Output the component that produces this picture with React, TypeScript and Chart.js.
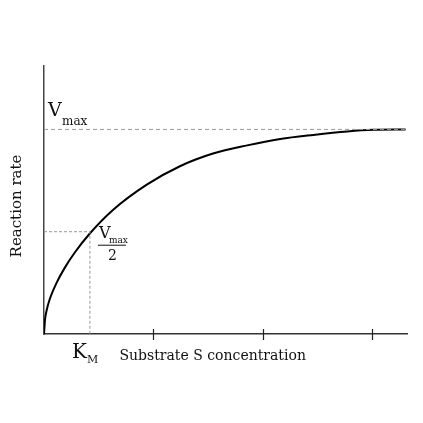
import { useEffect, useRef } from "react";
import { Chart, registerables } from "chart.js";

Chart.register(...registerables);

// Michaelis–Menten style curve (substrate concentration vs reaction rate, Vmax = 1)
const curveX = [0, 0.01, 0.025, 0.05, 0.115, 0.188, 0.28, 0.417, 0.628, 0.94, 1.243, 1.546, 1.858, 2.161, 2.463, 2.775, 3.014, 3.307];
const curveY = [0, 0.074, 0.117, 0.166, 0.25, 0.322, 0.397, 0.49, 0.605, 0.73, 0.82, 0.882, 0.922, 0.953, 0.973, 0.99, 0.998, 1.0];
const xTicks = [1, 2, 3];
const vmax = 1;
const km = 0.42;
const xMax = 3.32;
const yMax = 1.31;
const xLabel = "Substrate S concentration";
const yLabel = "Reaction rate";

export default function App() {
  const ref = useRef<HTMLCanvasElement>(null);

  useEffect(() => {
    if (!ref.current) return;
    const serif = "'DejaVu Serif', serif";

    const labelsPlugin = {
      id: "mmLabels",
      afterDatasetsDraw(chart: any) {
        const { ctx } = chart;
        const x = chart.scales.x;
        const y = chart.scales.y;
        ctx.save();
        // ticks crossing the x axis
        ctx.strokeStyle = "#222";
        ctx.lineWidth = 1.2;
        xTicks.forEach((t) => {
          const px = Math.round(x.getPixelForValue(t)) + 0.5;
          ctx.beginPath();
          ctx.moveTo(px, y.bottom - 5);
          ctx.lineTo(px, y.bottom + 6);
          ctx.stroke();
        });

        ctx.fillStyle = "#111";
        ctx.textBaseline = "alphabetic";
        ctx.textAlign = "left";
        // V_max label
        const vmaxPx = y.getPixelForValue(vmax);
        const x0 = x.getPixelForValue(0);
        ctx.font = `19px ${serif}`;
        ctx.fillText("V", x0 + 4, vmaxPx - 13);
        ctx.font = `12px ${serif}`;
        ctx.fillText("max", x0 + 18, vmaxPx - 4);

        // V_max / 2 label
        const halfPx = y.getPixelForValue(vmax / 2);
        const kmPx = x.getPixelForValue(km);
        ctx.font = `16px ${serif}`;
        ctx.fillText("V", kmPx + 9, halfPx + 6);
        ctx.font = `9px ${serif}`;
        ctx.fillText("max", kmPx + 19, halfPx + 11);
        ctx.strokeStyle = "#111";
        ctx.lineWidth = 1;
        ctx.beginPath();
        ctx.moveTo(kmPx + 8, halfPx + 13.5);
        ctx.lineTo(kmPx + 36, halfPx + 13.5);
        ctx.stroke();
        ctx.font = `14px ${serif}`;
        ctx.fillText("2", kmPx + 18, halfPx + 28);

        // K_M label
        ctx.font = `20px ${serif}`;
        ctx.fillText("K", kmPx - 18, y.bottom + 24);
        ctx.font = `11px ${serif}`;
        ctx.fillText("M", kmPx - 3, y.bottom + 29);

        // axis titles
        ctx.font = `14px ${serif}`;
        ctx.fillText(xLabel, x.getPixelForValue(0.69), y.bottom + 26);
        ctx.save();
        ctx.font = `15px ${serif}`;
        ctx.translate(21, 206);
        ctx.rotate(-Math.PI / 2);
        ctx.textAlign = "center";
        ctx.fillText(yLabel, 0, 0);
        ctx.restore();
        ctx.restore();
      },
    };

    const chart = new Chart(ref.current, {
      type: "scatter",
      data: {
        datasets: [
          {
            data: [{ x: 0, y: vmax }, { x: curveX[curveX.length - 1], y: vmax }],
            showLine: true,
            borderColor: "#999",
            borderWidth: 1,
            borderDash: [4, 3],
            pointRadius: 0,
          },
          {
            data: [{ x: 0, y: vmax / 2 }, { x: km, y: vmax / 2 }, { x: km, y: 0 }],
            showLine: true,
            borderColor: "#999",
            borderWidth: 1,
            borderDash: [3, 2],
            pointRadius: 0,
          },
          {
            data: curveX.map((v, i) => ({ x: v, y: curveY[i] })),
            showLine: true,
            borderColor: "#000",
            borderWidth: 2,
            cubicInterpolationMode: "monotone",
            pointRadius: 0,
          },
        ],
      },
      options: {
        responsive: false,
        animation: false,
        layout: { padding: { left: 44, right: 16, top: 66, bottom: 89 } },
        plugins: { legend: { display: false }, tooltip: { enabled: false } },
        scales: {
          x: {
            type: "linear",
            min: 0,
            max: xMax,
            ticks: { display: false },
            grid: { display: false },
            border: { display: true, color: "#333", width: 1.5 },
            afterFit: (s: any) => { s.height = 0; },
          },
          y: {
            type: "linear",
            min: 0,
            max: yMax,
            ticks: { display: false },
            grid: { display: false },
            border: { display: true, color: "#444", width: 1.5 },
            afterFit: (s: any) => { s.width = 0; },
          },
        },
      },
      plugins: [labelsPlugin],
    } as any);
    return () => chart.destroy();
  }, []);

  return (
    <canvas
      ref={ref}
      width={423}
      height={423}
      style={{ position: "fixed", left: 0, top: 0, width: 423, height: 423 }}
    />
  );
}
